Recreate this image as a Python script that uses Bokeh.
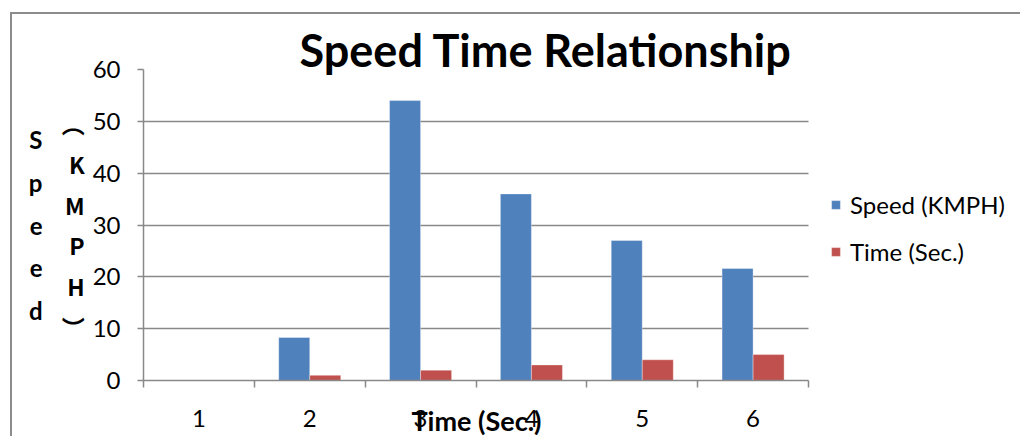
from bokeh.plotting import figure
from bokeh.models import (ColumnDataSource, FixedTicker, Legend, LegendItem, Title,
                          LinearAxis, Range1d, InlineStyleSheet)
from bokeh.transform import dodge
from bokeh.embed import file_html
from bokeh.resources import INLINE

# ---- data ----
categories = [1, 2, 3, 4, 5, 6]
speed_kmph = [0, 8.3, 54, 36, 27, 21.6]
time_sec = [0, 1, 2, 3, 4, 5]
y_ticks = [0, 10, 20, 30, 40, 50, 60]
series_names = ["Speed (KMPH)", "Time (Sec.)"]
title_text = "Speed Time Relationship"
x_title = "Time (Sec.)"
y_title_word = "Speed"
y_title_unit = "KMPH"

BLUE = "#4F81BD"
RED = "#C0504D"
GRAY = "#898989"
FONT = "Lato"

W, H = 1020, 436
FL, FR, FT, FB = 143, 808, 69, 380   # plot-area edges in pixels

# the frame spans to the right edge so the legend can live inside it;
# the category axis occupies FL..FR of it
x_lo = categories[0] - 0.5
x_hi = categories[-1] + 0.5
x_end = x_lo + (x_hi - x_lo) * (W - FL) / (FR - FL)

p = figure(width=W, height=H, output_backend="svg", toolbar_location=None, title=None,
           x_range=Range1d(x_lo, x_end),
           y_range=Range1d(y_ticks[0], y_ticks[-1]),
           min_border_left=FL, min_border_right=0,
           min_border_top=FT, min_border_bottom=H - FB)
p.outline_line_color = None
p.background_fill_color = "white"
p.border_fill_color = "white"

# outer chart border (left and top edges), drawn with a stylesheet
p.stylesheets = [InlineStyleSheet(css="""
:host { position: relative; }
:host::after { content: ""; position: absolute; left: 10px; top: 12px;
  width: calc(100% - 10px); height: calc(100% - 12px);
  border-left: 2px solid #8c8c8c; border-top: 2px solid #8c8c8c;
  box-sizing: border-box; pointer-events: none; }
""")]

# ---- grid (limited to the category area) ----
p.xgrid.grid_line_color = None
p.ygrid.ticker = FixedTicker(ticks=y_ticks)
p.ygrid.grid_line_color = GRAY
p.ygrid.grid_line_width = 1.5
try:
    p.ygrid.cross_bounds = (x_lo, x_hi)
except Exception:
    p.ygrid.grid_line_color = None
    p.segment(x0=[x_lo] * len(y_ticks), x1=[x_hi] * len(y_ticks), y0=y_ticks, y1=y_ticks,
              line_color=GRAY, line_width=1.5)

src = ColumnDataSource(dict(cat=categories, speed=speed_kmph, time=time_sec))
bw = 0.28
r1 = p.vbar(x=dodge("cat", -bw / 2, range=p.x_range), top="speed", width=bw, source=src,
            fill_color=BLUE, line_color="white", line_width=0.6, line_alpha=0.6)
r2 = p.vbar(x=dodge("cat", bw / 2, range=p.x_range), top="time", width=bw, source=src,
            fill_color=RED, line_color="white", line_width=0.6, line_alpha=0.6)

# ---- x axis ----
minor = [c - 0.5 for c in categories] + [categories[-1] + 0.5]
xa = p.xaxis[0]
xa.bounds = (x_lo, x_hi)
xa.ticker = FixedTicker(ticks=categories, minor_ticks=minor)
xa.major_tick_out = 0
xa.major_tick_in = 0
xa.minor_tick_out = 7
xa.minor_tick_in = 0
xa.minor_tick_line_color = GRAY
xa.minor_tick_line_width = 1.5
xa.axis_line_color = GRAY
xa.axis_line_width = 1.5
xa.major_label_standoff = 22
xa.major_label_text_font = FONT
xa.major_label_text_font_size = "24px"
xa.major_label_text_color = "black"

# x axis title, placed under the category area (overlapping the tick labels)
p.add_layout(Title(text=x_title, align="left", vertical_align="top", offset=268,
                   standoff=-52, text_font=FONT, text_font_style="bold",
                   text_font_size="27px", text_color="black"), "below")

# ---- y axis ----
ya = p.yaxis[0]
ya.ticker = FixedTicker(ticks=y_ticks)
ya.major_tick_out = 6
ya.major_tick_in = 0
ya.minor_tick_out = 0
ya.minor_tick_in = 0
ya.major_tick_line_color = GRAY
ya.major_tick_line_width = 1.5
ya.axis_line_color = GRAY
ya.axis_line_width = 1.5
ya.major_label_standoff = 17
ya.major_label_text_font = FONT
ya.major_label_text_font_size = "24px"
ya.major_label_text_color = "black"
ya.axis_label = "\n".join(["\ufe35"] + list(y_title_unit) + ["\ufe36"])
ya.axis_label_orientation = "horizontal"
ya.axis_label_standoff = 5
ya.axis_label_text_font = "Noto Sans CJK JP"
ya.axis_label_text_font_style = "bold"
ya.axis_label_text_font_size = "23px"
ya.axis_label_text_line_height = 1.2
ya.axis_label_text_color = "black"

# second (outer) left axis carrying the stacked word "Speed"
ya2 = LinearAxis(ticker=FixedTicker(ticks=[]), axis_line_color=None,
                 major_tick_line_color=None, minor_tick_line_color=None,
                 major_label_text_font_size="0px",
                 axis_label="\n".join(list(y_title_word)),
                 axis_label_orientation="horizontal", axis_label_standoff=16,
                 axis_label_text_font=FONT, axis_label_text_font_style="bold",
                 axis_label_text_font_size="24px", axis_label_text_line_height=1.47,
                 axis_label_text_color="black")
p.add_layout(ya2, "left")

# ---- title ----
p.add_layout(Title(text=title_text, align="left", offset=156, standoff=-15,
                   text_font=FONT, text_font_style="bold", text_font_size="45px",
                   text_color="black"), "above")

# ---- legend (inside the widened frame, right of the category area) ----
legend = Legend(items=[LegendItem(label=series_names[0], renderers=[r1]),
                       LegendItem(label=series_names[1], renderers=[r2])],
                location=(830 - FL, FB - 266), orientation="vertical",
                padding=0, margin=0, spacing=18, glyph_width=11, glyph_height=11,
                label_height=29, label_standoff=9, label_text_font=FONT,
                label_text_font_size="24px", label_text_color="black",
                border_line_color=None, background_fill_alpha=0)
p.add_layout(legend, "center")

open("out.html", "w").write(file_html(p, INLINE))
